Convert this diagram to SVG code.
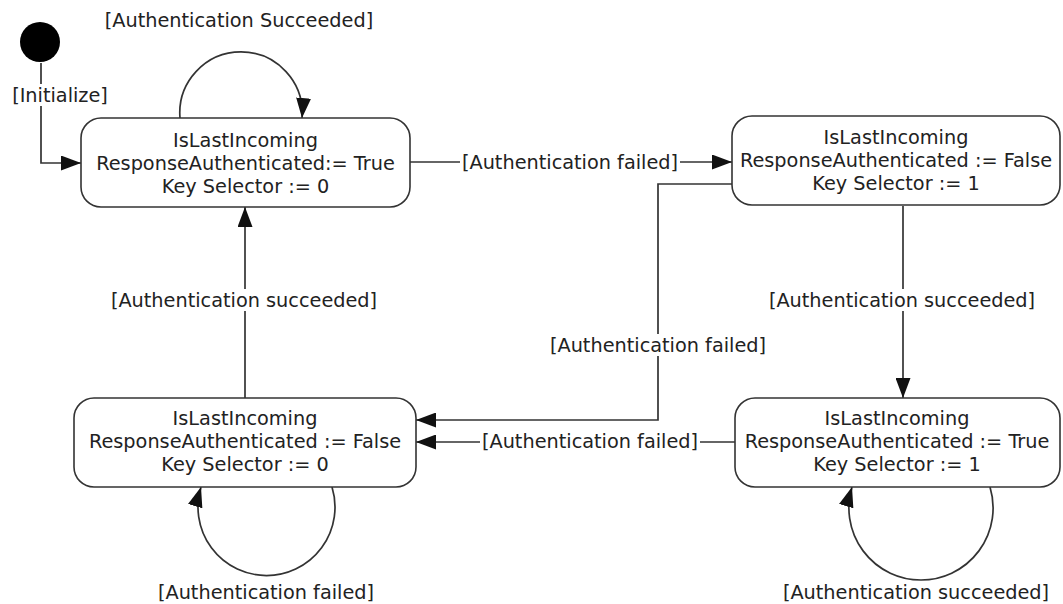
<svg xmlns="http://www.w3.org/2000/svg" width="1063" height="604" viewBox="0 0 1063 604">
<style>
.node{fill:#fff;stroke:#333;stroke-width:1.6}
.t{font-family:"DejaVu Sans",Verdana,sans-serif;font-size:19.3px;fill:#222;text-anchor:middle}
.e{fill:none;stroke:#333;stroke-width:1.7;marker-end:url(#arr)}
.bg{fill:#fff}
</style>
<defs>
<marker id="arr" markerUnits="userSpaceOnUse" markerWidth="20" markerHeight="15" refX="20" refY="7.5" orient="auto" viewBox="0 0 20 15">
<path d="M0,0 L20,7.5 L0,15 z" fill="#111"/>
</marker>
</defs>
<g id="connectors">
<path class="e" d="M41,63 V163 H81"/>
<path class="e" d="M180,118 A61.2 61.2 0 1 1 302,118"/>
<path class="e" d="M410,162 H732"/>
<path class="e" d="M732,184 H658 V420 H416"/>
<path class="e" d="M735,442 H416"/>
<path class="e" d="M903,206 V398"/>
<path class="e" d="M245,398 V207"/>
<path class="e" d="M332,487 A68.5 68.5 0 1 1 201,487"/>
<path class="e" d="M990,487 A72.1 72.1 0 1 1 852,487"/>
</g>
<g id="labels">
<rect class="bg" x="12" y="84" width="96" height="22"/>
<text class="t" x="60" y="102">[Initialize]</text>
<text class="t" x="239" y="27">[Authentication Succeeded]</text>
<rect class="bg" x="460" y="151" width="220" height="22"/>
<text class="t" x="570" y="169">[Authentication failed]</text>
<rect class="bg" x="548" y="334" width="220" height="22"/>
<text class="t" x="658" y="352">[Authentication failed]</text>
<rect class="bg" x="480" y="431" width="220" height="22"/>
<text class="t" x="590" y="448">[Authentication failed]</text>
<rect class="bg" x="768" y="289" width="270" height="22"/>
<text class="t" x="902" y="307">[Authentication succeeded]</text>
<rect class="bg" x="108" y="289" width="272" height="22"/>
<text class="t" x="244" y="307">[Authentication succeeded]</text>
<text class="t" x="266" y="599">[Authentication failed]</text>
<text class="t" x="916" y="599">[Authentication succeeded]</text>
</g>
<g id="initial"><circle cx="40" cy="42" r="20" fill="#000"/></g>
<g id="s1">
<rect class="node" x="81" y="118" width="329" height="89" rx="20"/>
<text class="t" x="245.5" y="147">IsLastIncoming</text>
<text class="t" x="245.5" y="170">ResponseAuthenticated:= True</text>
<text class="t" x="245.5" y="193">Key Selector := 0</text>
</g>
<g id="s2">
<rect class="node" x="732" y="116" width="328" height="89" rx="20"/>
<text class="t" x="896" y="144">IsLastIncoming</text>
<text class="t" x="896" y="167">ResponseAuthenticated := False</text>
<text class="t" x="896" y="190">Key Selector := 1</text>
</g>
<g id="s3">
<rect class="node" x="74" y="398" width="342" height="89" rx="20"/>
<text class="t" x="245" y="425">IsLastIncoming</text>
<text class="t" x="245" y="448">ResponseAuthenticated := False</text>
<text class="t" x="245" y="471">Key Selector := 0</text>
</g>
<g id="s4">
<rect class="node" x="735" y="398" width="325" height="89" rx="20"/>
<text class="t" x="897" y="425">IsLastIncoming</text>
<text class="t" x="897" y="448">ResponseAuthenticated := True</text>
<text class="t" x="897" y="471">Key Selector := 1</text>
</g>
</svg>
